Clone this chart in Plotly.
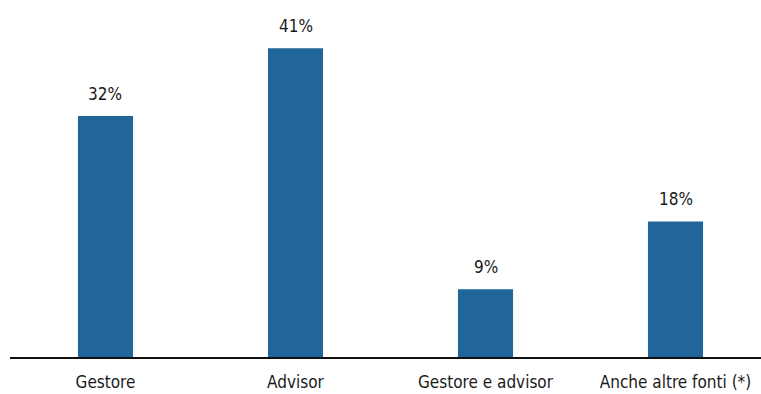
import plotly.graph_objects as go

categories = ["Gestore", "Advisor", "Gestore e advisor", "Anche altre fonti (*)"]
values = [32, 41, 9, 18]

FONT = "DejaVu Sans Condensed, Liberation Sans Narrow, Arial Narrow, sans-serif"
BAR_COLOR = "#21669a"

x_idx = list(range(len(categories)))

fig = go.Figure(
    go.Bar(
        x=x_idx,
        y=values,
        width=0.29,
        marker=dict(color=BAR_COLOR, line=dict(width=0)),
        hoverinfo="skip",
    )
)

# value labels above each bar
for xi, v in zip(x_idx, values):
    fig.add_annotation(
        x=xi, y=v, text=f"{v}%", showarrow=False,
        yanchor="bottom", yshift=10,
        font=dict(family=FONT, size=17, color="#1a1a1a"),
    )

fig.update_layout(
    width=761, height=394,
    margin=dict(l=10, r=0, t=0, b=37),
    paper_bgcolor="white", plot_bgcolor="white",
    showlegend=False,
    font=dict(family=FONT, size=17, color="#1a1a1a"),
    xaxis=dict(
        range=[-0.5026, 3.45],
        tickmode="array", tickvals=x_idx, ticktext=categories,
        showline=True, linecolor="#111111", linewidth=2,
        showgrid=False, zeroline=False, ticks="",
        ticklabelstandoff=9,
        fixedrange=True,
    ),
    yaxis=dict(
        range=[0, 47.4], visible=False, showgrid=False, zeroline=False,
        fixedrange=True,
    ),
)

fig.write_html("out.html")
